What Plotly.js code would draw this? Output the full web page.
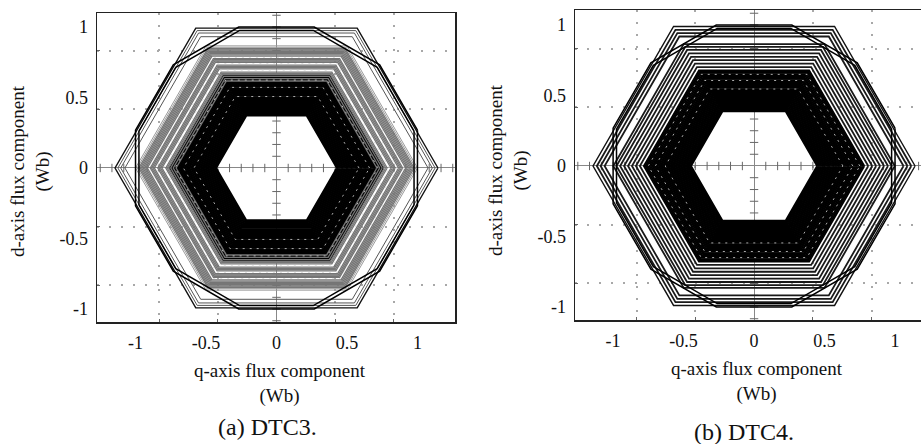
<!DOCTYPE html>
<html>
<head>
<meta charset="utf-8">
<script src="https://cdn.plot.ly/plotly-3.0.1.min.js"></script>
<style>
  html, body { margin: 0; padding: 0; background: #fff; }
  #chart { width: 921px; height: 444px; }
</style>
</head>
<body>
<div id="chart"></div>
<script>
// Stator flux trajectories (q-d plane) under two DTC schemes.
// Each loop of the trajectory is a hexagon of flux magnitude r (Wb, vertex radius);
// the steady-state loop is a chamfered hexagon (12 vertices).

// Axis ticks
const axisTickVals = [-1, -0.5, 0, 0.5, 1];
const axisTickText = ['-1', '-0.5', '0', '0.5', '1'];
const gridVals = [-0.833, -0.417, 0.417, 0.833];
const crossTicks = [-1.25, -1.167, -1.083, -1, -0.917, -0.833, -0.75, -0.667, -0.583, -0.5,
  -0.417, -0.333, -0.25, -0.167, -0.083, 0.083, 0.167, 0.25, 0.333, 0.417, 0.5, 0.583,
  0.667, 0.75, 0.833, 0.917, 1, 1.083, 1.167, 1.25];

// Vertex angles (deg) of the voltage-vector hexagon and of the steady-state loop
const hexAngles = [0, 60, 120, 180, 240, 300, 360];
const steadyAngles = [15, 45, 75, 105, 135, 165, 195, 225, 255, 285, 315, 345, 375];

// (a) DTC3 — loop radii (Wb)
const coreDTC3 = [0.428, 0.437, 0.446, 0.455, 0.464, 0.473, 0.482, 0.491, 0.500, 0.509,
  0.518, 0.527, 0.536, 0.545, 0.554, 0.563, 0.572, 0.581, 0.590, 0.599, 0.608, 0.618,
  0.627, 0.636, 0.645, 0.654, 0.664, 0.673, 0.682, 0.691, 0.700, 0.710, 0.719, 0.728,
  0.737, 0.746, 0.756];
const bandDTC3 = [0.712, 0.732, 0.750, 0.765, 0.775, 0.785, 0.812, 0.822, 0.832, 0.842,
  0.866, 0.876, 0.886, 0.895, 0.916, 0.926, 0.936, 0.946, 0.956, 0.966, 0.976];
const paleDTC3 = [0.988, 1.0];
const outerDTC3 = [1.075, 1.105, 1.125];
const limitDTC3 = [1.145];
const steadyDTC3 = [1.01, 1.035];
const speckleDTC3 = [0.585, 0.66, 0.72, 0.80, 0.855, 0.905];

// (b) DTC4 — loop radii (Wb)
const coreDTC4 = [0.447, 0.456, 0.464, 0.472, 0.480, 0.489, 0.498, 0.506, 0.515, 0.524,
  0.533, 0.541, 0.550, 0.559, 0.568, 0.577, 0.585, 0.594, 0.603, 0.612, 0.621, 0.630,
  0.639, 0.648, 0.657, 0.666, 0.675, 0.685, 0.694, 0.703, 0.713, 0.722, 0.732, 0.742,
  0.752, 0.762, 0.772, 0.782];
const bandDTC4 = [0.81, 0.838, 0.866, 0.894, 0.922, 0.95, 0.976, 0.998, 1.06, 1.088, 1.115];
const limitDTC4 = [1.142];
const steadyDTC4 = [1.01, 1.035];
const speckleDTC4 = [0.63, 0.70, 0.75];

function loops(radii, angles) {
  const q = [], d = [];
  radii.forEach(r => {
    angles.forEach(a => {
      const t = a * Math.PI / 180;
      q.push(r * Math.cos(t));
      d.push(r * Math.sin(t));
    });
    q.push(null); d.push(null);
  });
  return { q, d };
}

function loopTrace(radii, angles, xa, ya, color, width, dash) {
  const p = loops(radii, angles);
  return {
    x: p.q, y: p.d, xaxis: xa, yaxis: ya, type: 'scatter', mode: 'lines',
    line: { color: color, width: width, dash: dash || 'solid' }, hoverinfo: 'skip', connectgaps: false
  };
}

function crossTraces(xa, ya) {
  return [
    { x: crossTicks, y: crossTicks.map(() => 0), xaxis: xa, yaxis: ya, type: 'scatter', mode: 'markers',
      marker: { symbol: 'line-ns', size: 6, line: { width: 1, color: '#666' } }, hoverinfo: 'skip' },
    { x: crossTicks.map(() => 0), y: crossTicks, xaxis: xa, yaxis: ya, type: 'scatter', mode: 'markers',
      marker: { symbol: 'line-ew', size: 6, line: { width: 1, color: '#666' } }, hoverinfo: 'skip' }
  ];
}

const data = [
  ...crossTraces('x', 'y'),
  loopTrace(coreDTC3, hexAngles, 'x', 'y', '#000', 1.8),
  loopTrace(bandDTC3, hexAngles, 'x', 'y', '#767676', 1.35),
  loopTrace(speckleDTC3, hexAngles, 'x', 'y', '#d8d8d8', 0.8, '2px,5px'),
  loopTrace(paleDTC3, hexAngles, 'x', 'y', '#9a9a9a', 1),
  loopTrace(outerDTC3, hexAngles, 'x', 'y', '#555', 1),
  loopTrace(limitDTC3, hexAngles, 'x', 'y', '#111', 1.4),
  loopTrace(steadyDTC3, steadyAngles, 'x', 'y', '#000', 1.5),

  ...crossTraces('x2', 'y2'),
  loopTrace(coreDTC4, hexAngles, 'x2', 'y2', '#000', 1.8),
  loopTrace(speckleDTC4, hexAngles, 'x2', 'y2', '#d8d8d8', 0.8, '2px,5px'),
  loopTrace(bandDTC4, hexAngles, 'x2', 'y2', '#1a1a1a', 1.8),
  loopTrace(limitDTC4, hexAngles, 'x2', 'y2', '#111', 1.4),
  loopTrace(steadyDTC4, steadyAngles, 'x2', 'y2', '#000', 1.5)
];

const serif = 'Liberation Serif';
const tickFont = { family: serif, size: 18, color: '#111' };

function axis(domain, range, anchor, mirror) {
  return {
    domain: domain, range: range, anchor: anchor,
    showline: true, linecolor: '#222', linewidth: 1.5, mirror: mirror,
    tickmode: 'array', tickvals: axisTickVals, ticktext: axisTickText,
    ticks: '', tickfont: tickFont, ticklabelstandoff: 4,
    showgrid: false,
    zeroline: true, zerolinecolor: '#888', zerolinewidth: 1,
    minor: {
      tickmode: 'array', tickvals: gridVals,
      showgrid: true, gridcolor: '#a8a8a8', griddash: '2px,10px', gridwidth: 2,
      ticks: 'inside', ticklen: 3, tickcolor: '#666'
    },
    fixedrange: true
  };
}

const W = 921, H = 444;
const px = v => v / W;
const py = v => 1 - v / H;

const titleFont = { family: serif, size: 19, color: '#111' };
const capFont = { family: serif, size: 24, color: '#111' };

const layout = {
  width: W, height: H,
  margin: { l: 0, r: 0, t: 0, b: 0 },
  paper_bgcolor: '#fff', plot_bgcolor: '#fff',
  showlegend: false,
  xaxis: axis([px(97), px(455)], [-1.273, 1.266], 'y', true),
  yaxis: axis([py(322), py(13)], [-1.092, 1.099], 'x', true),
  xaxis2: axis([px(575), 1], [-1.27, 1.184], 'y2', true),
  yaxis2: axis([py(320), py(10)], [-1.092, 1.106], 'x2', false),
  annotations: [
    { text: 'd-axis flux component<br>(Wb)', textangle: -90, x: px(31), y: py(171), xref: 'paper', yref: 'paper',
      xanchor: 'center', yanchor: 'middle', showarrow: false, font: titleFont },
    { text: 'q-axis flux component<br>(Wb)', x: px(280), y: py(383.5), xref: 'paper', yref: 'paper',
      xanchor: 'center', yanchor: 'middle', showarrow: false, font: titleFont },
    { text: '(a) DTC3.', x: px(267), y: py(427), xref: 'paper', yref: 'paper',
      xanchor: 'center', yanchor: 'middle', showarrow: false, font: capFont },
    { text: 'd-axis flux component<br>(Wb)', textangle: -90, x: px(508), y: py(170), xref: 'paper', yref: 'paper',
      xanchor: 'center', yanchor: 'middle', showarrow: false, font: titleFont },
    { text: 'q-axis flux component<br>(Wb)', x: px(757), y: py(381), xref: 'paper', yref: 'paper',
      xanchor: 'center', yanchor: 'middle', showarrow: false, font: titleFont },
    { text: '(b) DTC4.', x: px(744), y: py(432), xref: 'paper', yref: 'paper',
      xanchor: 'center', yanchor: 'middle', showarrow: false, font: capFont }
  ]
};

Plotly.newPlot('chart', data, layout, { staticPlot: true, displayModeBar: false });
</script>
</body>
</html>
